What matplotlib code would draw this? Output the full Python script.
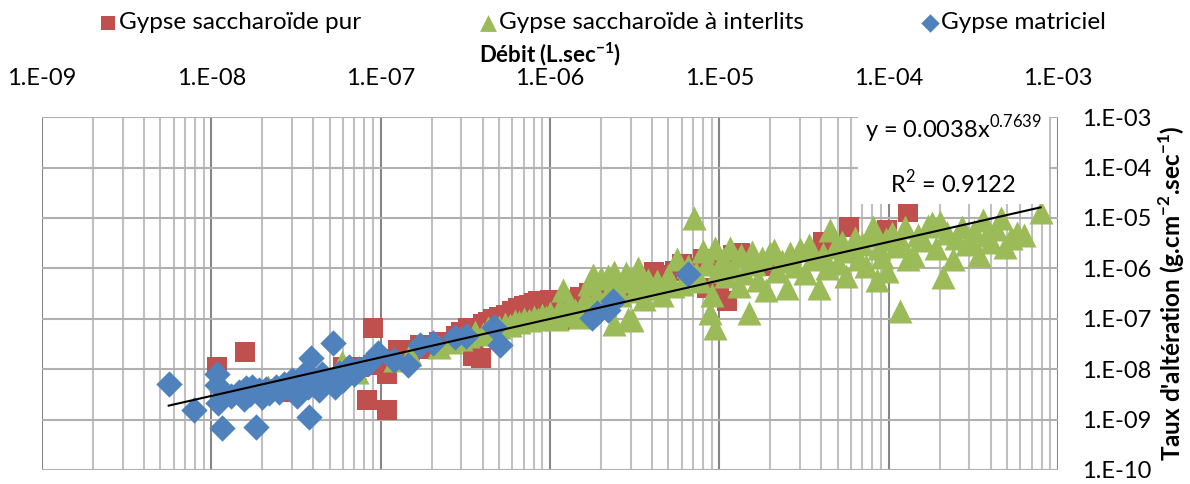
import numpy as np
import matplotlib
matplotlib.use("Agg")
import matplotlib.pyplot as plt
from matplotlib.ticker import LogLocator, FixedLocator, FuncFormatter, NullFormatter

plt.rcParams['font.family'] = ['Lato', 'DejaVu Sans']
plt.rcParams['mathtext.fontset'] = 'custom'
plt.rcParams['mathtext.rm'] = 'Lato'
plt.rcParams['mathtext.bf'] = 'Lato:bold'

# Gypse saccharoide pur (red squares)
red_x = [1.08e-8, 1.59e-8, 2.2e-8, 2.5e-8, 3.0e-8, 5.5e-8, 6.0e-8, 6.5e-8, 7.5e-8, 8.3e-8,
         9.0e-8, 9.0e-8, 1.0e-7, 1.09e-7, 1.09e-7, 1.26e-7, 1.3e-7, 1.5e-7, 1.7e-7, 1.9e-7,
         2.2e-7, 2.5e-7, 2.8e-7, 3.0e-7, 3.3e-7, 3.5e-7, 3.6e-7, 3.9e-7, 4.0e-7, 4.3e-7,
         4.6e-7, 5.0e-7, 5.5e-7, 6.0e-7, 6.5e-7, 7.0e-7, 7.5e-7, 8.0e-7, 8.5e-7, 9.0e-7,
         1.0e-6, 1.15e-6, 1.1e-6, 1.2e-6, 1.35e-6, 1.5e-6, 1.6e-6, 1.7e-6, 1.95e-6, 2.3e-6,
         2.6e-6, 3.0e-6, 3.4e-6, 4.1e-6, 4.3e-6, 4.8e-6, 5.5e-6, 6.0e-6, 7.0e-6, 8.0e-6,
         8.5e-6, 9.0e-6, 1.0e-5, 1.11e-5, 1.2e-5, 1.33e-5, 2.0e-5, 4.1e-5, 5.8e-5, 9.8e-5,
         1.3e-4]
red_y = [1.1e-8, 2.2e-8, 3.8e-9, 4.0e-9, 3.5e-9, 6.0e-9, 1.1e-8, 9.0e-9, 1.1e-8, 2.4e-9,
         6.5e-8, 1.2e-8, 1.6e-8, 1.55e-9, 8.0e-9, 2.4e-8, 2.1e-8, 2.4e-8, 3.0e-8, 2.5e-8,
         3.5e-8, 3.2e-8, 4.6e-8, 5.5e-8, 6.5e-8, 1.8e-8, 5.5e-8, 1.7e-8, 8.0e-8, 8.5e-8,
         1.0e-7, 1.1e-7, 1.2e-7, 1.4e-7, 1.6e-7, 1.8e-7, 1.9e-7, 2.1e-7, 2.2e-7, 2.2e-7,
         2.4e-7, 9.5e-8, 2.2e-7, 2.3e-7, 2.4e-7, 2.7e-7, 1.0e-7, 3.2e-7, 4.2e-7, 3.8e-7,
         4.5e-7, 5.2e-7, 6.0e-7, 8.3e-7, 5.0e-7, 7.5e-7, 9.0e-7, 1.2e-6, 1.0e-6, 1.5e-6,
         4.0e-7, 1.3e-6, 3.0e-7, 2.3e-7, 1.8e-6, 2.0e-6, 1.1e-6, 3.3e-6, 6.6e-6, 5.7e-6,
         1.3e-5]

# Gypse saccharoide a interlits (green triangles)
green_x = [2.16e-8, 5.9e-8, 5.9e-8, 7.3e-8, 1.22e-7, 1.5e-7, 2.2e-7, 2.6e-7,
           3.0e-7, 3.3e-7, 3.6e-7, 4.0e-7, 4.3e-7, 4.6e-7, 5.0e-7, 5.4e-7, 5.8e-7, 6.2e-7,
           6.6e-7, 7.0e-7, 7.5e-7, 8.0e-7, 8.5e-7, 9.0e-7, 9.5e-7, 1.2e-6,
           1.0e-6, 1.1e-6, 1.15e-6, 1.25e-6, 1.3e-6, 1.4e-6, 1.5e-6, 1.6e-6, 1.7e-6, 1.8e-6,
           1.9e-6, 2.0e-6, 2.1e-6, 2.2e-6, 2.3e-6, 2.4e-6, 2.4e-6, 2.5e-6, 2.6e-6, 2.8e-6,
           2.9e-6, 3.0e-6, 3.05e-6, 3.2e-6, 3.3e-6, 3.4e-6, 3.6e-6, 3.8e-6, 4.0e-6, 4.3e-6,
           4.6e-6, 5.0e-6, 5.3e-6, 5.6e-6, 6.0e-6, 6.5e-6, 7.1e-6, 7.3e-6, 7.7e-6, 8.0e-6,
           8.5e-6, 8.8e-6, 9.0e-6, 9.4e-6, 9.4e-6, 9.8e-6,
           1.05e-5, 1.1e-5, 1.15e-5, 1.2e-5, 1.3e-5, 1.35e-5, 1.4e-5, 1.5e-5, 1.55e-5, 1.6e-5,
           1.7e-5, 1.8e-5, 1.9e-5, 2.0e-5, 2.1e-5, 2.2e-5, 2.35e-5, 2.5e-5, 2.6e-5, 2.8e-5,
           3.0e-5, 3.2e-5, 3.4e-5, 3.6e-5, 3.9e-5, 4.1e-5, 4.3e-5, 4.5e-5, 4.8e-5, 5.0e-5,
           5.3e-5, 5.6e-5, 6.0e-5, 6.3e-5, 6.7e-5, 7.0e-5, 7.4e-5, 7.8e-5, 8.1e-5, 8.5e-5,
           8.8e-5, 9.2e-5, 9.6e-5, 9.8e-5,
           1.05e-4, 1.1e-4, 1.17e-4, 1.17e-4, 1.25e-4, 1.3e-4, 1.4e-4, 1.5e-4, 1.6e-4, 1.7e-4,
           1.8e-4, 1.9e-4, 2.0e-4, 2.1e-4, 2.2e-4, 2.4e-4, 2.5e-4, 2.7e-4, 2.9e-4, 3.0e-4,
           3.2e-4, 3.4e-4, 3.6e-4, 3.8e-4, 4.0e-4, 4.3e-4, 4.6e-4, 4.9e-4, 5.3e-4, 5.7e-4,
           6.3e-4, 7.9e-4]
green_y = [4.4e-9, 1.4e-8, 8.7e-9, 8.7e-9, 1.5e-8, 2.0e-8, 2.8e-8, 3.5e-8,
           4.0e-8, 4.5e-8, 5.5e-8, 5.0e-8, 6.5e-8, 6.0e-8, 7.0e-8, 8.0e-8, 7.5e-8, 9.0e-8,
           8.5e-8, 1.0e-7, 9.5e-8, 1.1e-7, 1.0e-7, 1.2e-7, 1.1e-7, 3.7e-7,
           1.3e-7, 1.0e-7, 1.6e-7, 1.2e-7, 2.0e-7, 1.5e-7, 1.1e-7, 2.5e-7, 5.0e-7, 7.5e-7,
           3.0e-7, 6.5e-7, 2.0e-7, 7.0e-7, 4.0e-7, 8.0e-8, 8.5e-7, 5.5e-7, 3.0e-7, 8.0e-7,
           1.0e-7, 6.0e-7, 9.5e-8, 3.5e-7, 1.0e-6, 5.0e-7, 2.5e-7, 6.0e-7, 4.0e-7, 5.5e-7,
           3.0e-7, 7.0e-7, 4.5e-7, 1.5e-6, 5.0e-7, 1.1e-6, 1.0e-5, 8.0e-7, 5.5e-7, 2.2e-6,
           1.2e-6, 1.3e-7, 3.0e-7, 2.5e-6, 6.5e-8, 9.0e-7,
           1.5e-6, 7.0e-7, 2.5e-6, 1.0e-6, 4.5e-7, 1.8e-6, 8.0e-7, 1.3e-7, 2.1e-6, 1.2e-6,
           6.0e-7, 1.6e-6, 3.7e-7, 2.0e-6, 2.3e-6, 9.0e-7, 1.4e-6, 4.1e-7, 2.0e-6, 1.1e-6,
           2.4e-6, 8.0e-7, 2.9e-6, 1.5e-6, 4.1e-7, 1.9e-6, 1.0e-6, 5.7e-6, 2.6e-6, 1.3e-6,
           3.3e-6, 7.0e-7, 2.2e-6, 4.0e-6, 1.5e-6, 3.0e-6, 1.1e-6, 4.5e-6, 6.6e-6, 5.9e-7,
           2.5e-6, 1.7e-6, 3.8e-6, 9.0e-7,
           5.0e-6, 2.8e-6, 1.4e-7, 3.6e-6, 6.5e-6, 1.5e-6, 1.8e-6, 4.5e-6, 3.6e-6, 7.0e-6,
           7.9e-6, 2.5e-6, 8.3e-6, 6.6e-7, 5.0e-6, 1.5e-6, 4.0e-6, 6.6e-6, 3.0e-6, 3.6e-6,
           5.5e-6, 1.8e-6, 9.0e-6, 4.5e-6, 3.3e-6, 6.0e-6, 1.0e-5, 2.6e-6, 4.0e-6, 5.0e-6,
           4.6e-6, 1.3e-5]

# Gypse matriciel (blue diamonds)
blue_x = [5.6e-9, 7.9e-9, 1.08e-8, 1.08e-8, 1.15e-8, 1.1e-8, 1.3e-8, 1.45e-8, 1.55e-8, 1.6e-8,
          1.7e-8, 1.75e-8, 1.84e-8, 1.9e-8, 2.0e-8, 2.1e-8, 2.2e-8, 2.4e-8, 2.5e-8, 2.7e-8,
          2.9e-8, 3.0e-8, 3.2e-8, 3.3e-8, 3.5e-8, 3.7e-8, 3.8e-8, 3.9e-8, 4.0e-8, 4.3e-8,
          4.5e-8, 4.7e-8, 5.0e-8, 5.2e-8, 5.4e-8, 5.7e-8, 6.0e-8, 6.5e-8, 7.0e-8, 7.5e-8,
          8.5e-8, 9.7e-8, 1.2e-7, 1.45e-7, 1.71e-7, 2.04e-7, 2.75e-7, 3.2e-7, 4.7e-7, 5.1e-7,
          1.77e-6, 1.9e-6, 2.36e-6, 2.2e-6, 6.5e-6]
blue_y = [5.0e-9, 1.55e-9, 7.9e-9, 4.8e-9, 6.8e-10, 2.1e-9, 3.0e-9, 3.5e-9, 2.6e-9, 4.2e-9,
          3.2e-9, 4.5e-9, 7.1e-10, 3.8e-9, 2.8e-9, 4.0e-9, 3.3e-9, 4.4e-9, 3.6e-9, 5.0e-9,
          4.1e-9, 6.0e-9, 2.9e-9, 5.5e-9, 7.5e-9, 4.5e-9, 1.12e-9, 1.66e-8, 6.5e-9, 3.8e-9,
          8.0e-9, 5.2e-9, 6.0e-9, 3.3e-8, 4.5e-9, 8.5e-9, 6.0e-9, 1.1e-8, 8.0e-9, 1.0e-8,
          1.3e-8, 2.1e-8, 1.5e-8, 1.2e-8, 3.0e-8, 3.3e-8, 4.3e-8, 4.5e-8, 6.8e-8, 3.0e-8,
          1.02e-7, 1.3e-7, 2.3e-7, 1.5e-7, 7.9e-7]

# power trendline from the reference
TREND_A = 0.0038
TREND_B = 0.7639
R2 = 0.9122

RED = '#C0504D'
GREEN = '#9BBB59'
BLUE = '#4F81BD'

fig = plt.figure(figsize=(11.9, 4.84), dpi=100)
ax = fig.add_axes([0.0353, 0.029, 0.8537, 0.729])

ax.scatter(red_x, red_y, marker='s', s=200, color=RED, linewidths=0, label='Gypse saccharoïde pur', zorder=3)
ax.scatter(green_x, green_y, marker='^', s=300, color=GREEN, linewidths=0, label='Gypse saccharoïde à interlits', zorder=4)
ax.scatter(blue_x, blue_y, marker='D', s=180, color=BLUE, linewidths=0, label='Gypse matriciel', zorder=5)

xt = np.logspace(np.log10(min(blue_x)), np.log10(max(green_x)), 50)
ax.plot(xt, TREND_A * xt ** TREND_B, color='black', lw=1.5, zorder=6)

ax.set_xscale('log')
ax.set_yscale('log')
ax.set_xlim(1e-9, 1e-3)
ax.set_ylim(1e-10, 1e-3)

fmt = FuncFormatter(lambda v, p: '1.E%03d' % int(round(np.log10(v))))
ax.xaxis.set_major_locator(FixedLocator(np.logspace(-9, -3, 7)))
ax.xaxis.set_minor_locator(LogLocator(base=10, subs=np.arange(2, 10), numticks=20))
ax.xaxis.set_minor_formatter(NullFormatter())
ax.yaxis.set_major_locator(FixedLocator(np.logspace(-10, -3, 8)))
ax.yaxis.set_minor_locator(FixedLocator([]))
ax.xaxis.set_major_formatter(fmt)
ax.yaxis.set_major_formatter(fmt)

ax.xaxis.tick_top()
ax.xaxis.set_label_position('top')
ax.yaxis.tick_right()
ax.yaxis.set_label_position('right')
ax.tick_params(axis='both', which='both', length=0, labelsize=17)
ax.tick_params(axis='x', pad=20)
ax.tick_params(axis='y', pad=17)

ax.grid(True, which='major', axis='x', color='#868686', lw=1.5, zorder=0)
ax.grid(True, which='minor', axis='x', color='#c0c0c0', lw=1.5, zorder=0)
ax.grid(True, which='major', axis='y', color='#b0b0b0', lw=1.5, zorder=0)
for sp in ax.spines.values():
    sp.set_visible(False)

ax.set_xlabel('Débit (L.sec$^{\\mathbf{-1}}$)', fontsize=16, fontweight='bold', labelpad=4)
ax.set_ylabel("Taux d'altération (g.cm$^{\\mathbf{-2}}$.sec$^{\\mathbf{-1}}$)", fontsize=17.5,
              fontweight='bold', labelpad=4)

ax.text(0.897, 1.01, 'y = 0.0038x$^{0.7639}$\nR$^2$ = %.4f' % R2, transform=ax.transAxes,
        ha='center', va='top', fontsize=17, linespacing=2.0, zorder=7,
        bbox=dict(facecolor='white', edgecolor='none', pad=5))

fig.legend(loc='upper center', bbox_to_anchor=(0.506, 1.02), ncol=3, frameon=False,
           fontsize=17.5, columnspacing=4.8, handlelength=0.8, handletextpad=0.05,
           markerscale=0.7)

fig.savefig('out.png', dpi=100)
